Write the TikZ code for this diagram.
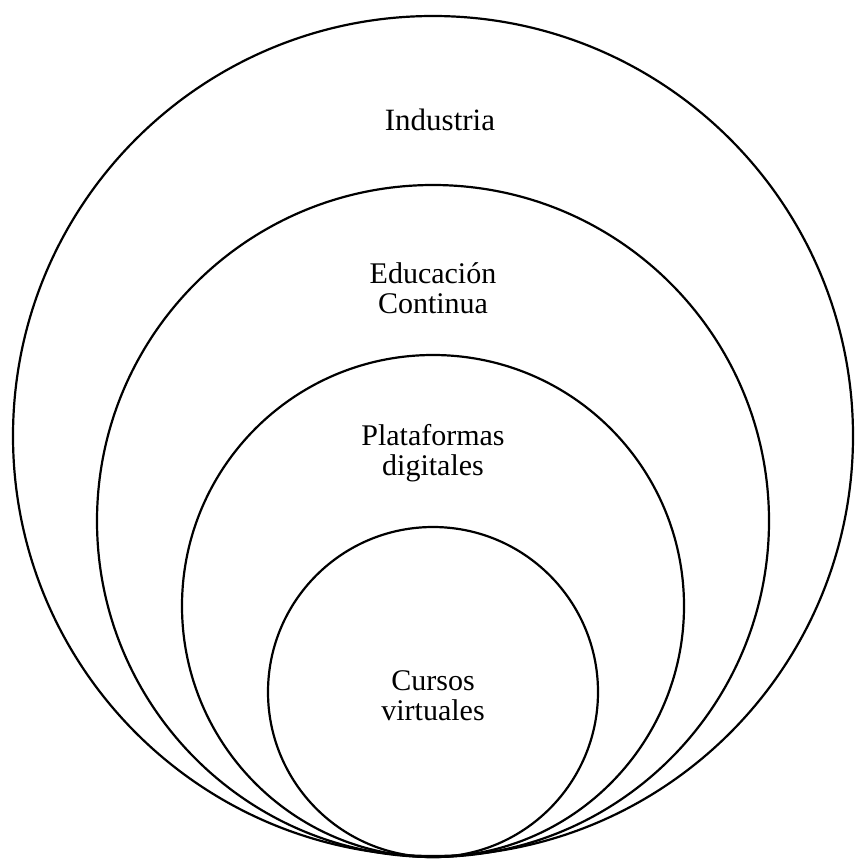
\documentclass[tikz,border=0pt]{standalone}
\usepackage{fontspec}
\setmainfont{Liberation Serif}
\begin{document}
\begin{tikzpicture}[x=1pt,y=-1pt,
  ring/.style={draw=black,line width=2.2pt},
  lbl/.style={font=\fontsize{30}{30}\selectfont,align=center,inner sep=0pt,anchor=base}]
\useasboundingbox (0,0) rectangle (858,867);
\fill[white] (0,0) rectangle (858,867);
\draw[ring] (433,436) circle[radius=420];
\draw[ring] (433,521) circle[radius=336];
\draw[ring] (433,606) circle[radius=251];
\draw[ring] (433,692) circle[radius=165];
\node[lbl,font=\fontsize{31}{31}\selectfont] (ind) at (440,130) {Industria};
\node[lbl] (edu) at (433,313) {Educación\\Continua};
\node[lbl] (pla) at (433,475) {Plataformas\\digitales};
\node[lbl] (cur) at (433,720) {Cursos\\virtuales};
\end{tikzpicture}
\end{document}
